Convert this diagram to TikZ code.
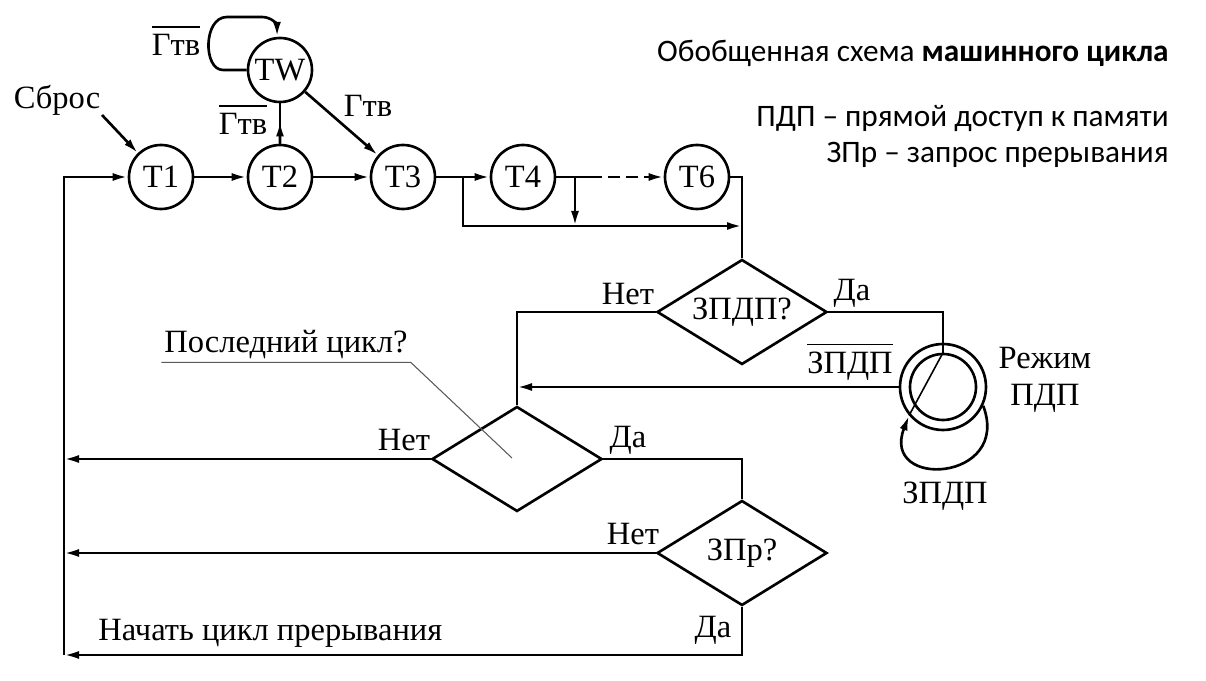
\documentclass[tikz,border=0pt]{standalone}
\usepackage{fontspec}
\setmainfont{Liberation Serif}
\newfontfamily\calfont{Carlito}
\usepackage{tikz}
\usetikzlibrary{shapes.geometric, arrows.meta, calc}
\newcommand{\ovl}[1]{\vbox{\hrule height 0.9pt\kern 3.5pt\hbox{#1}}}

\begin{document}
\begin{tikzpicture}[x=0.2mm, y=-0.2mm, line width=1.5pt,
  tstate/.style={circle, draw, minimum size=12.8mm, inner sep=0pt,
    font=\fontsize{18.5}{21}\selectfont},
  decision/.style={diamond, draw, minimum width=34mm, minimum height=21mm,
    inner sep=0pt, aspect=1.6, font=\fontsize{18.5}{21}\selectfont},
  lbl/.style={font=\fontsize{18.5}{21}\selectfont, inner sep=0pt, align=center},
  note/.style={font=\calfont\fontsize{17.8}{21}\selectfont, anchor=east, inner sep=0pt},
  arr/.style={-{Latex[length=3mm,width=1.6mm]}},
  leader/.style={line width=0.6pt, gray!70!black}
]
  \useasboundingbox (0,0) rectangle (1206,681);

  \node[note] (title) at (1170,53) {Обобщенная схема \textbf{машинного цикла}};
  \node[note] (pdpnote) at (1170,119) {ПДП – прямой доступ к памяти};
  \node[note] (zprnote) at (1170,155) {ЗПр – запрос прерывания};

  \node[tstate] (T1) at (161,177) {T1};
  \node[tstate] (T2) at (280,177) {T2};
  \node[tstate] (T3) at (403,177) {T3};
  \node[tstate] (T4) at (523,177) {T4};
  \node[tstate] (T6) at (697,177) {T6};
  \node[tstate] (TW) at (280,70) {TW};

  \node[decision] (zpdp) at (742,312) {ЗПДП?};
  \node[decision] (last) at (517,459) {};
  \node[decision] (zpr) at (742,553) {ЗПр?};

  \node[circle, draw, minimum size=17.2mm, inner sep=0pt] (pdp) at (943,387) {};
  \node[circle, draw, minimum size=13.2mm, inner sep=0pt] (pdpin) at (943,387) {};

  \node[lbl] (sbros) at (57,100) {Сброс};
  \node[lbl] (gtv1) at (176,41) {\ovl{Гтв}};
  \node[lbl] (gtv2) at (243,120) {\ovl{Гтв}};
  \node[lbl] (gtv3) at (368,106) {Гтв};
  \node[lbl] (net1) at (628,294) {Нет};
  \node[lbl] (da1) at (852,293) {Да};
  \node[lbl] (nzpdp) at (850,362) {\ovl{ЗПДП}};
  \node[lbl] (rezhim) at (1045,380) {Режим\\ПДП};
  \node[lbl] (zpdpl) at (945,496) {ЗПДП};
  \node[lbl, inner sep=1pt] (lastq) at (286,345) {Последний цикл?};
  \node[lbl] (net2) at (404,440) {Нет};
  \node[lbl] (da2) at (628,440) {Да};
  \node[lbl] (net3) at (633,534) {Нет};
  \node[lbl] (da3) at (713,630) {Да};
  \node[lbl, anchor=west] (irq) at (97,633) {Начать цикл прерывания};

  \coordinate (rst) at (102,115);
  \coordinate (ret) at (64,655);
  \coordinate (b1) at (463,177);
  \coordinate (b2) at (575,177);
  \coordinate (b3) at (590,177);
  \coordinate (j1) at (742,226);
  \coordinate (lqend) at (512,458);
  \coordinate (m2) at ($(T2.north)!0.55!(TW.south)$);

  \draw[arr] (rst) -- (T1.134);
  \draw[arr] (T1) -- (T2);
  \draw[arr] (T2) -- (T3);
  \draw[arr] (T3) -- (T4);
  \draw (T2) -- (TW);
  \draw[arr] (T2.north) -- (m2);
  \draw[arr] (TW) -- (T3);
  \draw[arr] (TW.180) -- (223,70) .. controls (203,70) and (203,17) .. (227,17)
    -- (262,17) .. controls (272,17) and (277,25) .. (TW.95);
  \draw (T4.east) -- (b3);
  \draw[arr, dash pattern=on 2.4mm off 1.2mm] (b3) -- (T6.west);
  \draw[arr] (b1) |- (j1);
  \draw[arr] (b2) -- (b2 |- j1);
  \draw (T6.east) -| (zpdp.north);

  \draw (zpdp.west) -| (last.north);
  \draw (zpdp.east) -| (pdpin.north);
  \draw[line width=0.9pt] (pdpin.north) -- (pdp.-140);
  \draw[arr] (pdp.-25) .. controls (1012,482) and (880,490) .. (pdp.-140);
  \draw[arr] (pdp.west) -- (pdp.west -| last.north);

  \draw[leader] (lastq.south west) -- (lastq.south east) -- (lqend);

  \draw (last.east) -| (zpr.north);
  \draw[arr] (last.west) -- (last.west -| ret);
  \draw[arr] (zpr.west) -- (zpr.west -| ret);
  \draw[arr] (zpr.south) |- (ret);
  \draw[arr] (ret) |- (T1.west);
\end{tikzpicture}
\end{document}
